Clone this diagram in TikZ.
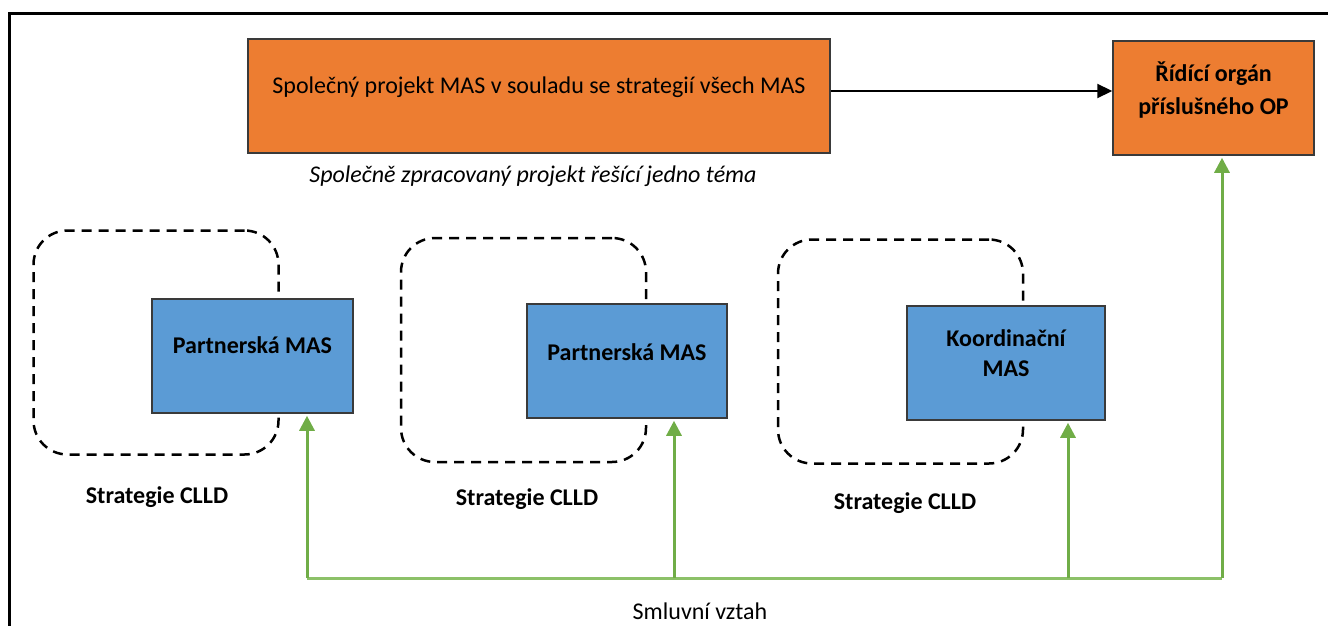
\documentclass[tikz,border=0pt]{standalone}
\usepackage{fontspec}
\setmainfont{Carlito}
\usetikzlibrary{arrows.meta}
\definecolor{orangeF}{HTML}{ED7D31}
\definecolor{blueF}{HTML}{5B9BD5}
\definecolor{greenA}{HTML}{70AD47}
\definecolor{greenL}{HTML}{8CC168}
\definecolor{borderD}{HTML}{3A3A3A}
\tikzset{
  obox/.style={draw=borderD, line width=1.5pt, fill=orangeF, minimum width=#1, minimum height=114pt, inner sep=0pt},
  bbox/.style={draw=borderD, line width=1.5pt, fill=blueF, minimum width=#1, minimum height=114pt, inner sep=0pt},
  dbox/.style={draw=black, line width=2.5pt, dash pattern=on 10pt off 7pt, rounded corners=34pt, minimum width=245pt, minimum height=224pt, inner sep=0pt},
  txt/.style={font=\fontsize{24}{29}\selectfont, align=center, inner sep=0pt},
  btxt/.style={font=\fontsize{24}{32}\selectfont\bfseries, align=center, inner sep=0pt},
  garrow/.style={draw=greenA, line width=3pt, -{Triangle[length=15pt,width=15pt]}, shorten >=2pt},
  gline/.style={draw=greenL, line width=3pt},
}
\begin{document}
\begin{tikzpicture}[x=1pt,y=-1pt]
\useasboundingbox (0,0) rectangle (1328,626);
\clip (0,0) rectangle (1328,626);
% outer frame
\draw[line width=3pt] (9,14) rectangle (1345,645);
% top boxes
\node[obox=582pt] (o1) at (539,96) {};
\node[txt] (o1t) at ([yshift=9pt]o1.center) {Společný projekt MAS v souladu se strategií všech MAS};
\node[obox=201pt] (o2) at (1213.5,98) {};
\node[btxt, font=\fontsize{24}{33}\selectfont\bfseries] (o2t) at ([yshift=8pt]o2.center) {Řídící orgán\\příslušného OP};
\draw[line width=2.2pt, -{Triangle[length=15pt,width=14pt]}] (o1.east |- 0,91) -- (o2.west |- 0,91);
\node[txt, font=\fontsize{24}{29}\selectfont\itshape] (note) at (533,176) {Společně zpracovaný projekt řešící jedno téma};
% dashed strategy areas
\node[dbox] (d1) at (156,342.5) {};
\node[dbox] (d2) at (523.5,350) {};
\node[dbox] (d3) at (900.5,351.5) {};
% MAS boxes
\node[bbox=201pt] (b1) at (252.5,356) {};
\node[btxt] (b1t) at ([yshift=11pt]b1.center) {Partnerská MAS};
\node[bbox=200pt] (b2) at (627,361) {};
\node[btxt] (b2t) at ([yshift=9pt]b2.center) {Partnerská MAS};
\node[bbox=198pt] (b3) at (1006,363) {};
\node[btxt, font=\fontsize{24}{30}\selectfont\bfseries] (b3t) at ([yshift=10pt]b3.center) {Koordinační\\MAS};
% strategy labels
\node[btxt] (s1) at (157,497) {Strategie CLLD};
\node[btxt] (s2) at (527,499) {Strategie CLLD};
\node[btxt] (s3) at (905,503) {Strategie CLLD};
% contract lines
\coordinate (c1) at (307,578);
\coordinate (c2) at (674,578);
\coordinate (c3) at (1068,578);
\coordinate (c4) at (1222,578);
\draw[gline] (c1) -- (c4);
\draw[garrow] (c1) -- (c1 |- b1.south);
\draw[garrow] (c2) -- (c2 |- b2.south);
\draw[garrow] (c3) -- (c3 |- b3.south);
\draw[garrow] (c4) -- (c4 |- o2.south);
\node[txt] (sv) at (700,611) {Smluvní vztah};
\end{tikzpicture}
\end{document}
